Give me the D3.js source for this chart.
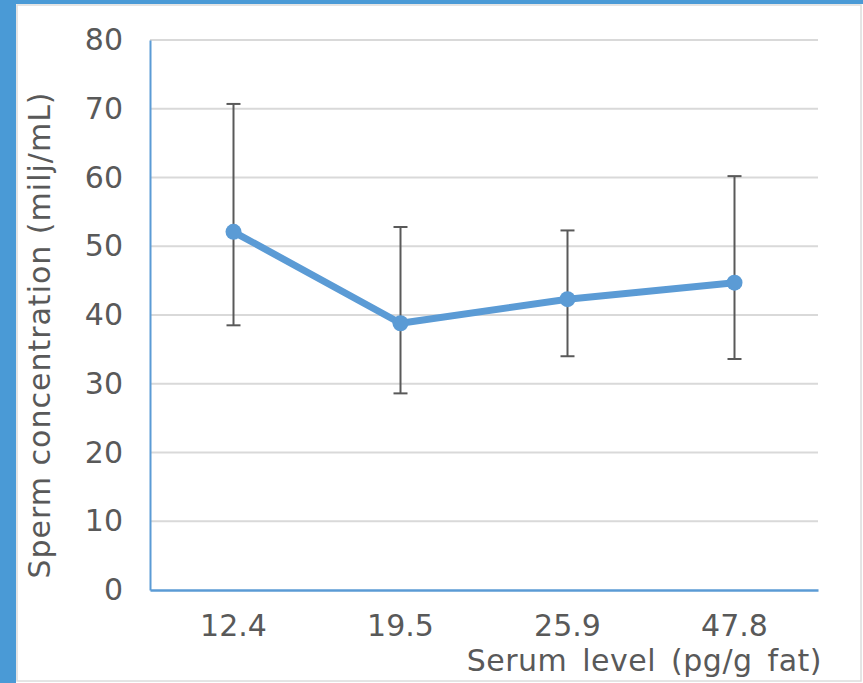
<!DOCTYPE html>
<html>
<head>
<meta charset="utf-8">
<script src="https://cdn.jsdelivr.net/npm/d3@7"></script>
<style>
  body { margin: 0; background: #fff; }
  svg { display: block; font-family: "DejaVu Sans", Verdana, sans-serif; }
</style>
</head>
<body>
<div id="chart"></div>
<script>
const categories = ['12.4', '19.5', '25.9', '47.8'];
const means = [52.1, 38.8, 42.3, 44.7];
const upper = [70.7, 52.8, 52.3, 60.2];
const lower = [38.5, 28.6, 34.0, 33.6];
const yTicks = [0, 10, 20, 30, 40, 50, 60, 70, 80];

const width = 863, height = 683;
const margin = { left: 150, right: 45, top: 40, bottom: 93 };
const textColor = '#595959';
const blue = '#5b9bd5';
const fontSize = 30;

const svg = d3.select('#chart').append('svg')
    .attr('width', width)
    .attr('height', height);

// frame around the slide
svg.append('rect').attr('x', 0).attr('y', 0).attr('width', width).attr('height', height).attr('fill', '#fff');
svg.append('rect').attr('x', 0).attr('y', 0).attr('width', 16).attr('height', height).attr('fill', '#4a9ad6');
svg.append('rect').attr('x', 0).attr('y', 0).attr('width', width).attr('height', 4).attr('fill', '#4a9ad6');
svg.append('rect').attr('x', 17).attr('y', 5).attr('width', width - 19).attr('height', height - 7)
    .attr('fill', 'none').attr('stroke', '#dcdcdc').attr('stroke-width', 1.5);

const x = d3.scaleBand()
    .domain(categories)
    .range([margin.left, width - margin.right]);

const y = d3.scaleLinear()
    .domain([0, 80])
    .range([height - margin.bottom, margin.top]);

// gridlines
svg.append('g')
    .selectAll('line')
    .data(yTicks.filter(d => d > 0))
    .enter().append('line')
    .attr('x1', margin.left)
    .attr('x2', width - margin.right)
    .attr('y1', d => y(d))
    .attr('y2', d => y(d))
    .attr('stroke', '#d9d9d9')
    .attr('stroke-width', 2);

// axes
const yAxis = svg.append('g')
    .attr('transform', `translate(${margin.left},0)`)
    .call(d3.axisLeft(y).tickValues(yTicks).tickSize(0).tickPadding(27));
yAxis.select('.domain').attr('stroke', blue).attr('stroke-width', 2);
yAxis.selectAll('text').attr('fill', textColor).attr('font-size', fontSize).attr('font-family', 'DejaVu Sans');

const xAxis = svg.append('g')
    .attr('transform', `translate(0,${height - margin.bottom})`)
    .call(d3.axisBottom(x).tickSize(0).tickPadding(25));
xAxis.select('.domain').attr('stroke', blue).attr('stroke-width', 2.5);
xAxis.selectAll('text').attr('fill', textColor).attr('font-size', fontSize).attr('font-family', 'DejaVu Sans');

// error bars
const cx = d => x(d) + x.bandwidth() / 2;
const err = svg.append('g').attr('stroke', '#595959').attr('stroke-width', 2);
categories.forEach((c, i) => {
    err.append('line').attr('x1', cx(c)).attr('x2', cx(c)).attr('y1', y(upper[i])).attr('y2', y(lower[i]));
    err.append('line').attr('x1', cx(c) - 7).attr('x2', cx(c) + 7).attr('y1', y(upper[i])).attr('y2', y(upper[i]));
    err.append('line').attr('x1', cx(c) - 7).attr('x2', cx(c) + 7).attr('y1', y(lower[i])).attr('y2', y(lower[i]));
});

// series line
const line = d3.line()
    .x((d, i) => cx(categories[i]))
    .y(d => y(d));

svg.append('path')
    .datum(means)
    .attr('d', line)
    .attr('fill', 'none')
    .attr('stroke', blue)
    .attr('stroke-width', 7)
    .attr('stroke-linejoin', 'round');

svg.append('g')
    .selectAll('circle')
    .data(means)
    .enter().append('circle')
    .attr('cx', (d, i) => cx(categories[i]))
    .attr('cy', d => y(d))
    .attr('r', 8)
    .attr('fill', blue);

// axis titles
svg.append('text')
    .attr('transform', 'translate(50,335) rotate(-90)')
    .attr('text-anchor', 'middle')
    .attr('fill', textColor)
    .attr('font-size', fontSize)
    .attr('letter-spacing', 1)
    .text('Sperm concentration (milj/mL)');

svg.append('text')
    .attr('x', 822)
    .attr('y', 671)
    .attr('text-anchor', 'end')
    .attr('fill', textColor)
    .attr('font-size', fontSize)
    .attr('letter-spacing', 0.5)
    .attr('word-spacing', 5)
    .text('Serum level (pg/g fat)');
</script>
</body>
</html>
